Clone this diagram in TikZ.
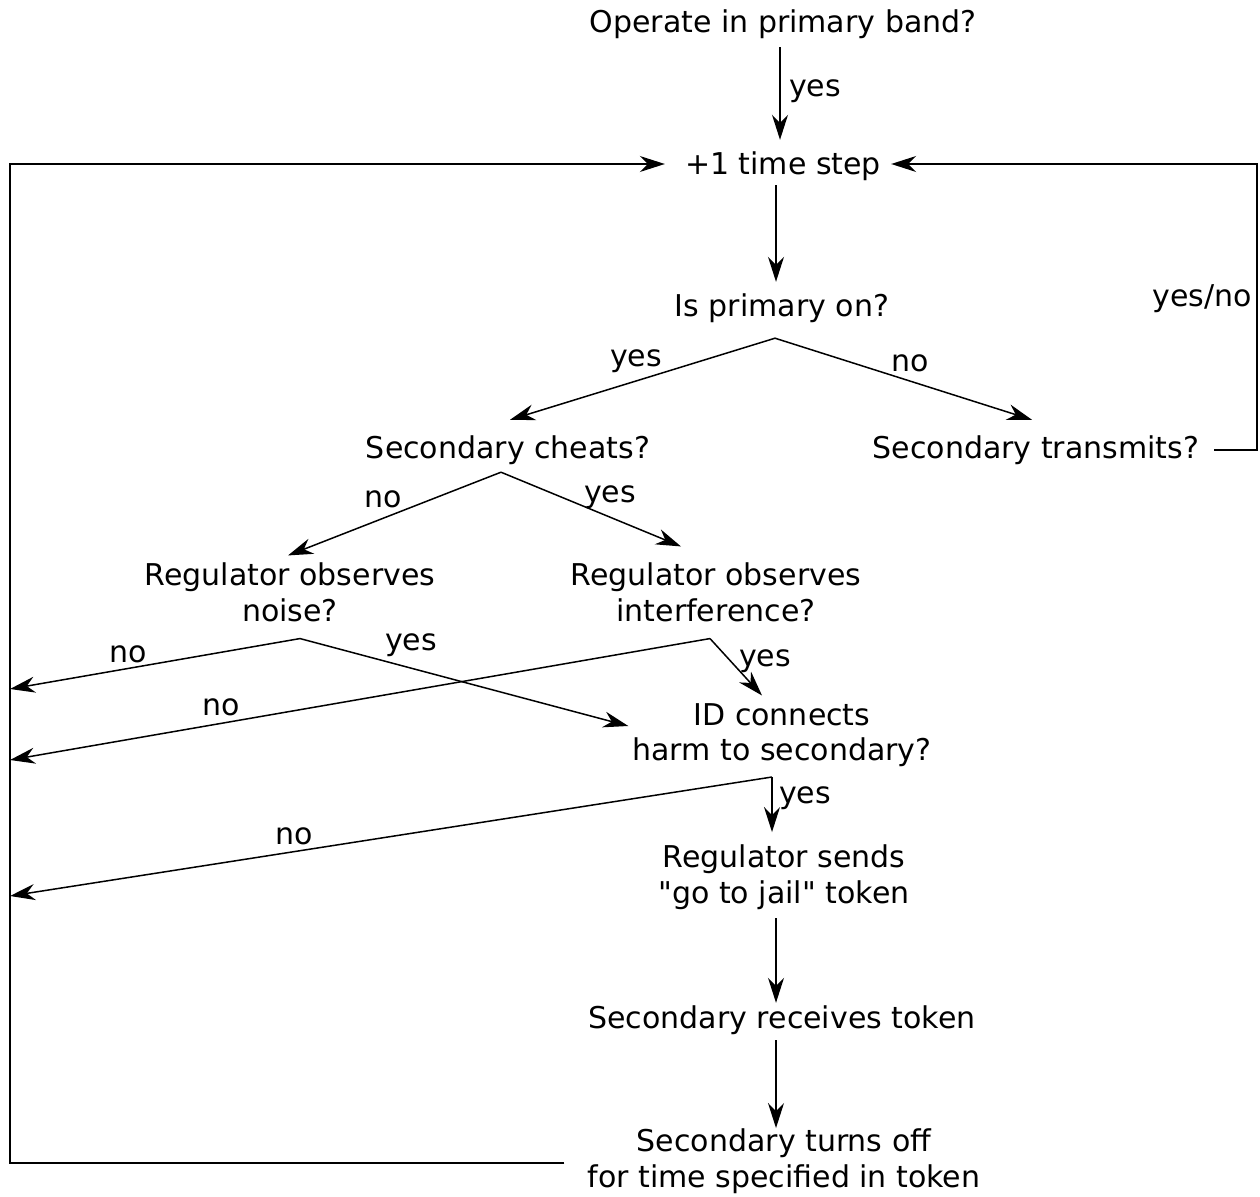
\documentclass[tikz,border=0pt]{standalone}
\usepackage{fontspec}
\setmainfont{DejaVu Sans}[Ligatures=TeXOff]
\usetikzlibrary{arrows.meta}
\begin{document}
\begin{tikzpicture}[x=1pt,y=-1pt,
  txt/.style={font=\fontsize{30}{35.5}\selectfont, inner sep=0pt},
  one/.style={txt, text height=25pt, text depth=4pt},
  two/.style={txt, align=center},
  lbl/.style={one},
  arr/.style={line width=1.5pt, -{Stealth[length=25pt,width=16pt,inset=8pt]}}]
\useasboundingbox (0,0) rectangle (1260,1196);

% decision and action nodes
\node[one] (q0) at (783,22) {Operate in primary band?};
\node[one] (ts) at (783,164) {+1 time step};
\node[one] (pon) at (782,306) {Is primary on?};
\node[one] (cheat) at (508,448) {Secondary cheats?};
\node[one] (tx) at (1036,448) {Secondary transmits?};
\node[two] (rnoise) at (290,592.5) {Regulator observes\\noise?};
\node[two] (rint) at (716,592.5) {Regulator observes\\interference?};
\node[two] (id) at (782,735) {ID connects\\harm to secondary?};
\node[two] (jail) at (784,877) {Regulator sends\\"go to jail" token};
\node[one] (recv) at (782,1018) {Secondary receives token};
\node[two] (off) at (784,1161) {Secondary turns off\\for time specified in token};

% return lines and branch points
\coordinate (lx) at (10,600);
\coordinate (rx) at (1257,300);
\coordinate (l1) at (10,689);
\coordinate (l2) at (10,760);
\coordinate (l3) at (10,896);
\coordinate (bp) at ([shift={(-7,17.5)}]pon.south);
\coordinate (bc) at ([shift={(-7,9.5)}]cheat.south);
\coordinate (bn) at ([shift={(10,16.5)}]rnoise.south);
\coordinate (bi) at ([shift={(-6,16.5)}]rint.south);
\coordinate (bd) at ([shift={(-10,10)}]id.south);

% connectors
\draw[arr] ([shift={(-3,10.5)}]q0.south) -- ([shift={(-3,-9.5)}]ts.north);
\draw[arr] ([shift={(-7,6.5)}]ts.south) -- ([shift={(-6,-9.5)}]pon.north);
\draw[arr] (bp) -- ([shift={(2,-13.5)}]cheat.north);
\draw[arr] (bp) -- ([shift={(-4,-13.5)}]tx.north);
\draw[arr] (bc) -- ([shift={(-2,-7.5)}]rnoise.north);
\draw[arr] (bc) -- ([shift={(-35,-16.5)}]rint.north);
\draw[arr] (bn) -- (l1);
\draw[arr] (bn) -- ([shift={(-4,-9)}]id.west);
\draw[arr] (bi) -- (l2);
\draw[arr] (bi) -- ([shift={(-20,-7.5)}]id.north);
\draw[arr] (bd) -- (l3);
\draw[arr] (bd) -- ([shift={(-12,-12.5)}]jail.north);
\draw[arr] ([shift={(-8,9)}]jail.south) -- ([shift={(-6,-0.5)}]recv.north);
\draw[arr] ([shift={(-6,7.5)}]recv.south) -- ([shift={(-8,-0.5)}]off.north);
\draw[arr] ([shift={(-23,2)}]off.west) -| (lx) |- ([shift={(-20,0)}]ts.west);
\draw[arr] ([shift={(15,2)}]tx.east) -| (rx) |- ([shift={(10,0)}]ts.east);

% branch labels
\node[lbl] (y0) at (815,86) {yes};
\node[lbl,anchor=east] (yn) at (1252,296) {yes/no};
\node[lbl] (y1) at (636,356) {yes};
\node[lbl] (n1) at (910,361) {no};
\node[lbl] (n2) at (383,497) {no};
\node[lbl] (y2) at (610,492) {yes};
\node[lbl] (n3) at (128,652) {no};
\node[lbl] (y3) at (411,640) {yes};
\node[lbl] (n4) at (221,705) {no};
\node[lbl] (y4) at (765,656) {yes};
\node[lbl] (y5) at (805,793) {yes};
\node[lbl] (n5) at (294,834) {no};
\end{tikzpicture}
\end{document}
